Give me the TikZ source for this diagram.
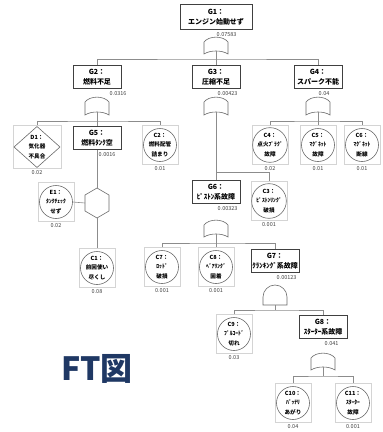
\documentclass[tikz,border=0pt]{standalone}
\usepackage{fontspec}
\setmainfont{Noto Sans CJK JP}
\usetikzlibrary{calc}
\definecolor{boxc}{HTML}{404040}
\definecolor{linec}{HTML}{8C8C8C}
\definecolor{framec}{HTML}{D4D4D4}
\definecolor{circc}{HTML}{6A6A6A}
\definecolor{navy}{HTML}{1F3864}
\definecolor{probc}{HTML}{404040}
\tikzset{
 gbox/.style={draw=boxc, line width=0.9pt, fill=white, minimum width=48pt, minimum height=23pt, inner sep=0pt, align=center, font=\bfseries\fontsize{7}{9.5}\selectfont},
 evframe/.style={draw=framec, line width=0.5pt, minimum width=36pt, minimum height=39pt, inner sep=0pt},
 evcirc/.style={circle, draw=circc, line width=0.6pt, minimum size=33pt, inner sep=0pt, align=center, font=\bfseries\fontsize{5.6}{9.5}\selectfont},
 prob/.style={font=\fontsize{5.5}{6}\selectfont, text=probc, inner sep=0.5pt},
 conn/.style={draw=linec, line width=0.6pt},
 gate/.style={draw=circc, line width=0.6pt, fill=white},
}
\newcommand\evnt[5]{%
 \node[evframe] (#1f) at (#2,#3) {};
 \node[evcirc] (#1) at (#2,#3) {#4};
 \node[prob, anchor=north] (#1p) at ([yshift=-1pt]#1f.south) {#5};
}
\newcommand\orgate[4]{%
 \draw[gate] (#2-12,#4) -- (#2-12,#3+5) .. controls (#2-7,#3-1.5) and (#2+7,#3-1.5) .. (#2+12,#3+5) -- (#2+12,#4) .. controls (#2+6,#4-4) and (#2-6,#4-4) .. (#2-12,#4) -- cycle;
 \coordinate (#1) at (#2,#4-3);
}
\newcommand\andgate[4]{%
 \draw[gate] (#2-12,#4) -- (#2-12,#3+12) .. controls (#2-12,#3+5.4) and (#2-6.6,#3) .. (#2,#3) .. controls (#2+6.6,#3) and (#2+12,#3+5.4) .. (#2+12,#3+12) -- (#2+12,#4) -- cycle;
 \coordinate (#1) at (#2,#4);
}
\begin{document}
\begin{tikzpicture}[x=1pt,y=-1pt]
\useasboundingbox (0,0) rectangle (383,432);
% gate boxes
\node[gbox, minimum width=72pt, minimum height=25pt] (G1) at (216,17) {G1：\\エンジン始動せず};
\node[prob, anchor=north west] (G1p) at ([yshift=-2pt]G1.south) {0.07583};
\node[gbox] (G2) at (97,77) {G2：\\燃料不足};
\node[prob, anchor=north west] (G2p) at ([xshift=12pt,yshift=-2pt]G2.south) {0.0316};
\node[gbox] (G3) at (216,77) {G3：\\圧縮不足};
\node[prob, anchor=north west] (G3p) at ([xshift=1pt,yshift=-2pt]G3.south) {0.00423};
\node[gbox] (G4) at (318,77) {G4：\\スパーク不能};
\node[prob, anchor=north west] (G4p) at ([yshift=-2pt]G4.south) {0.04};
\node[gbox] (G5) at (97,138) {G5：\\燃料ﾀﾝｸ空};
\node[prob, anchor=north west] (G5p) at ([xshift=1pt,yshift=-2pt]G5.south) {0.0016};
\node[gbox] (G6) at (216,192) {G6：\\ﾋﾟｽﾄﾝ系故障};
\node[prob, anchor=north west] (G6p) at ([xshift=1pt,yshift=-2pt]G6.south) {0.00323};
\node[gbox] (G7) at (275,261) {G7：\\ｸﾗﾝｷﾝｸﾞ系故障};
\node[prob, anchor=north west] (G7p) at ([xshift=1pt,yshift=-2pt]G7.south) {0.00123};
\node[gbox] (G8) at (323,327) {G8：\\ｽﾀｰﾀｰ系故障};
\node[prob, anchor=north west] (G8p) at ([xshift=1pt,yshift=-2pt]G8.south) {0.041};
% gates
\orgate{g1o}{216}{37}{54}
\orgate{g2o}{97}{97}{115}
\orgate{g3o}{216}{97}{115}
\orgate{g4o}{318}{97}{115}
\orgate{g6o}{216}{220}{237}
\andgate{g7o}{275}{285}{305}
\orgate{g8o}{323}{353}{370}
% inhibit hexagon
\coordinate (hexT) at (97,188);
\coordinate (hexB) at (97,218);
\coordinate (hexL) at (85,203);
\draw[gate] (hexT) -- (109,195) -- (109,211) -- (hexB) -- (85,211) -- (85,195) -- cycle;
% events
\node[evframe, minimum width=48pt, minimum height=43pt] (D1f) at (37,147) {};
\draw[gate] (14,147) -- (37,126.5) -- (60,147) -- (37,167.5) -- cycle;
\node[align=center, inner sep=0pt, font=\bfseries\fontsize{5.6}{9.5}\selectfont] (D1) at (37,147) {D1：\\気化器\\不具合};
\node[prob, anchor=north] (D1p) at ([yshift=-1.5pt]D1f.south) {0.02};
\evnt{C1}{97}{268}{C1：\\前回使い\\尽くし}{0.08}
\evnt{E1}{56}{202}{E1：\\ﾀﾝｸﾁｪｯｸ\\せず}{0.02}
\evnt{C2}{160}{145}{C2：\\燃料配管\\詰まり}{0.01}
\evnt{C4}{270}{145}{C4：\\点火ﾌﾟﾗｸﾞ\\故障}{0.02}
\evnt{C5}{318}{145}{C5：\\ﾏｸﾞﾈｯﾄ\\故障}{0.01}
\evnt{C6}{362}{145}{C6：\\ﾏｸﾞﾈｯﾄ\\断線}{0.01}
\evnt{C3}{269}{201}{C3：\\ﾋﾟｽﾄﾝﾘﾝｸﾞ\\破損}{0.001}
\evnt{C7}{162}{267}{C7：\\ﾛｯﾄﾞ\\破損}{0.001}
\evnt{C8}{216}{267}{C8：\\ﾍﾞｱﾘﾝｸﾞ\\固着}{0.001}
\evnt{C9}{234}{334}{C9：\\ﾌﾟﾙｺｰﾄﾞ\\切れ}{0.03}
\evnt{C10}{293}{403}{C10：\\ﾊﾞｯﾃﾘ\\あがり}{0.04}
\evnt{C11}{353}{403}{C11：\\ｽﾀｰﾀｰ\\故障}{0.001}
% connectors
\coordinate (h1) at (216,59);
\draw[conn] (g1o) -- (h1);
\draw[conn] (G2.north) |- (h1) -| (G4.north);
\draw[conn] (h1) -- (G3.north);
\coordinate (h2) at (97,121);
\draw[conn] (g2o) -- (h2);
\draw[conn] (D1f.north) |- (h2) -| (C2f.north);
\draw[conn] (h2) -- (G5.north);
\coordinate (h3) at (216,172);
\draw[conn] (g3o) -- (G6.north);
\draw[conn] (h3) -| (C3f.north);
\coordinate (h4) at (318,121);
\draw[conn] (g4o) -- (h4);
\draw[conn] (C4f.north) |- (h4) -| (C6f.north);
\draw[conn] (h4) -- (C5f.north);
\draw[conn] (G5.south) -- (hexT);
\draw[conn] (hexB) -- (C1f.north);
\draw[conn] (E1.east) -- (hexL);
\coordinate (h6) at (216,243);
\draw[conn] (g6o) -- (C8f.north);
\draw[conn] (C7f.north) |- (h6) -| (G7.north);
\coordinate (h7) at (275,310);
\draw[conn] (g7o) -- (h7);
\draw[conn] (C9f.north) |- (h7) -| (G8.north);
\coordinate (h8) at (323,376);
\draw[conn] (g8o) -- (h8);
\draw[conn] (C10f.north) |- (h8) -| (C11f.north);
% title
\node[font=\bfseries\fontsize{32}{32}\selectfont, text=navy, inner sep=0pt] (ft) at (97,369) {FT図};
\end{tikzpicture}
\end{document}
